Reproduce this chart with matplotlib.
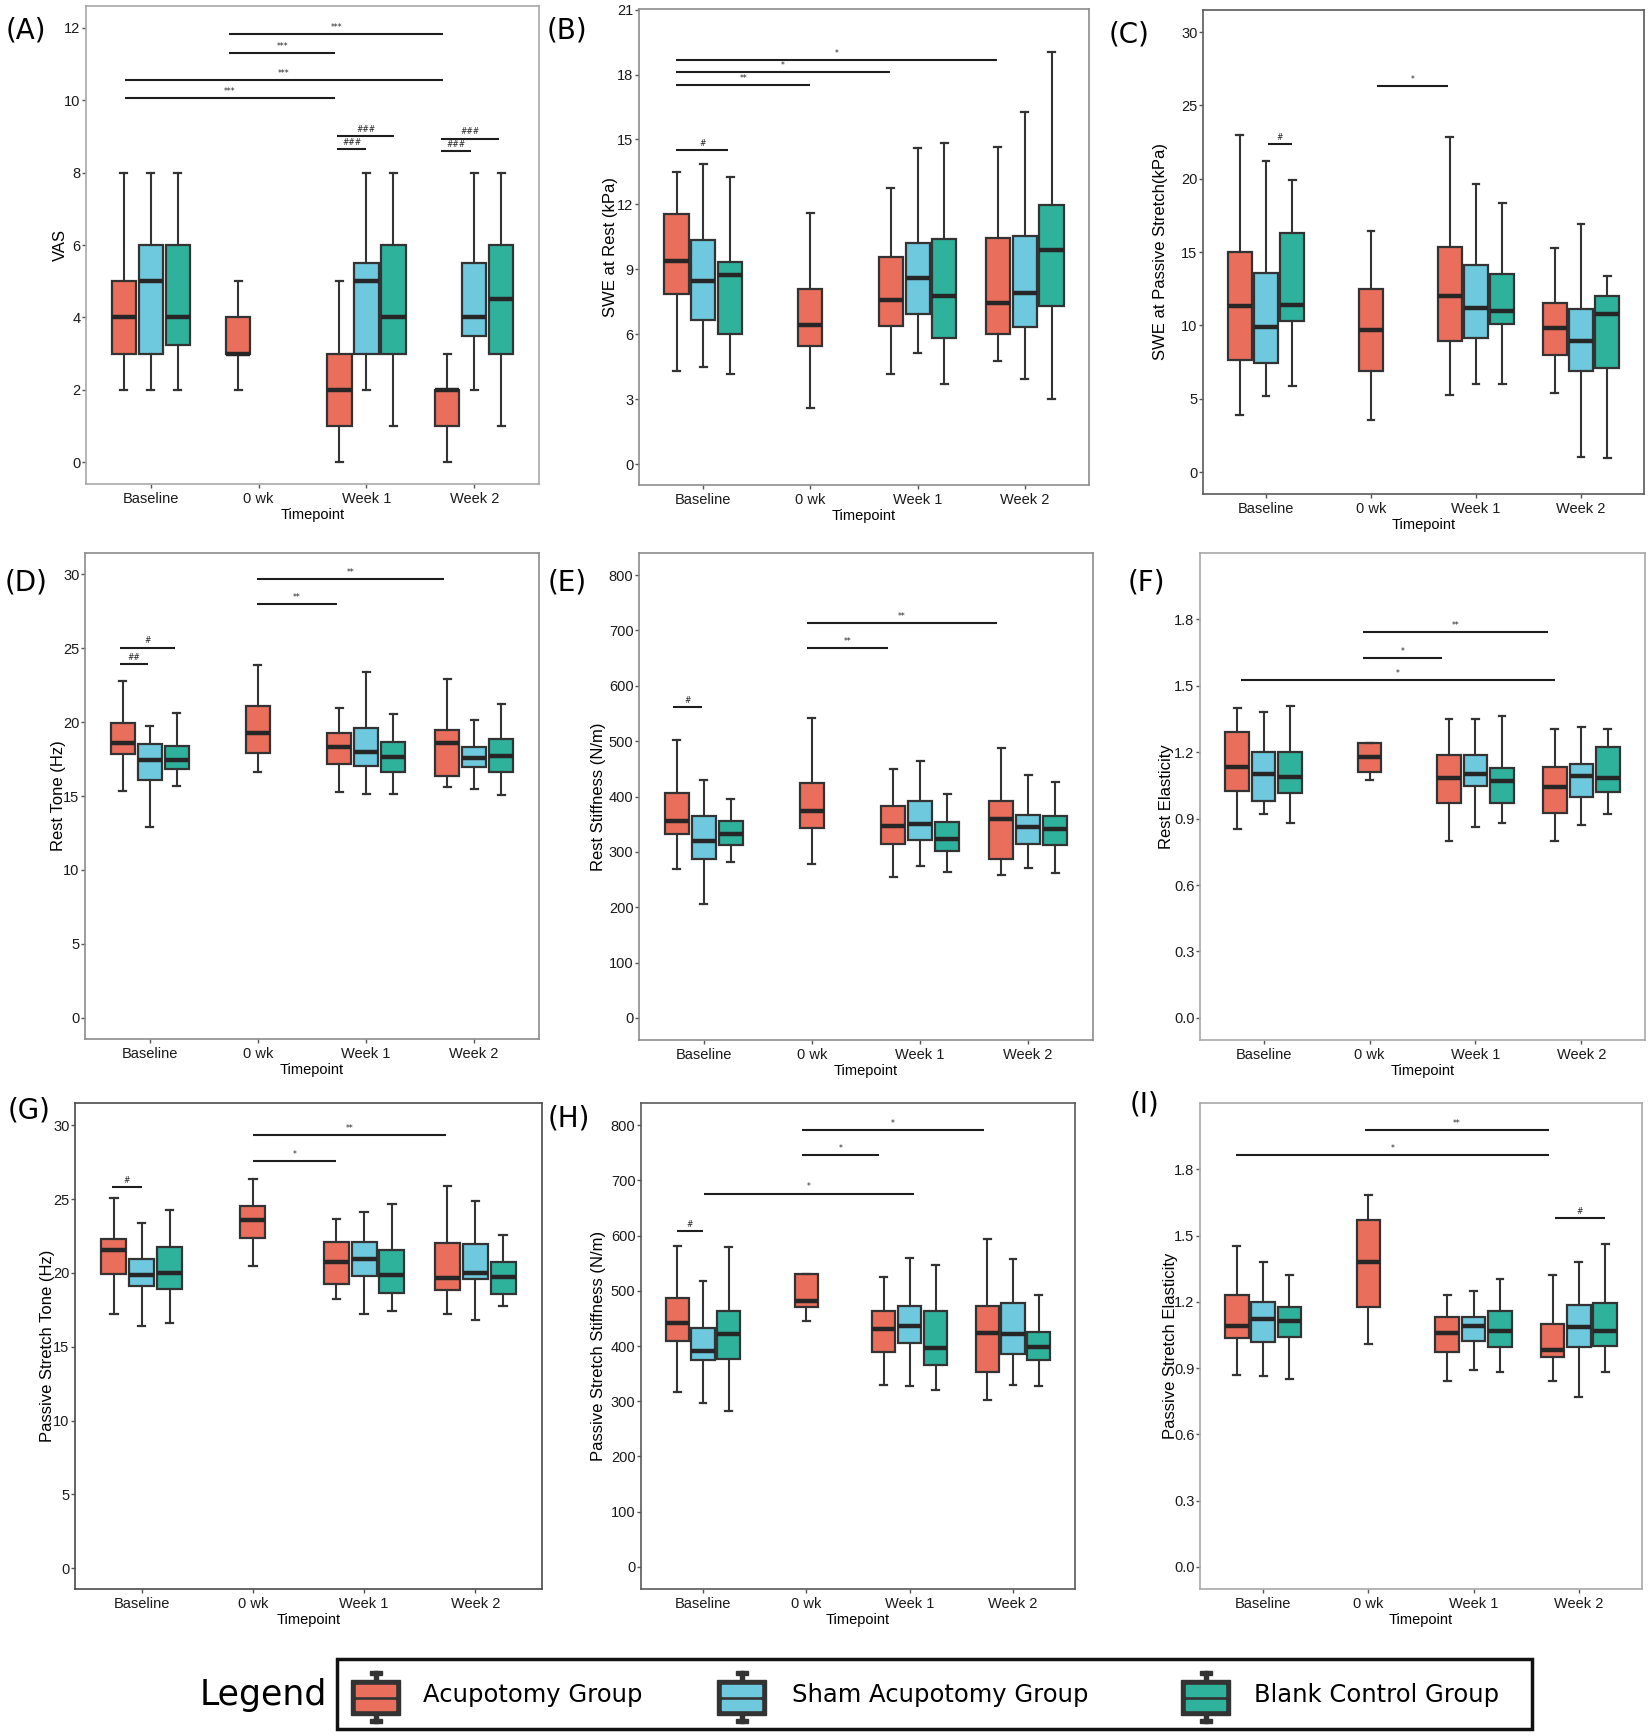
import matplotlib
matplotlib.use('Agg')
import matplotlib.pyplot as plt
from matplotlib import font_manager
from matplotlib.patches import Rectangle

W, H = 1648, 1736

timepoints = ['Baseline', '0 wk', 'Week 1', 'Week 2']
groups = ['Acupotomy Group', 'Sham Acupotomy Group', 'Blank Control Group']
colors = ['#EA6E5C', '#6EC8DE', '#2EB29C']

# box stats: (whislo, q1, median, q3, whishi)
# order: Baseline x3, 0 wk (acupotomy only), Week 1 x3, Week 2 x3
vas = [(2, 3, 4, 5, 8), (2, 3, 5, 6, 8), (2, 3.25, 4, 6, 8),
       (2, 3, 3, 4, 5),
       (0, 1, 2, 3, 5), (2, 3, 5, 5.5, 8), (1, 3, 4, 6, 8),
       (0, 1, 2, 2, 3), (2, 3.5, 4, 5.5, 8), (1, 3, 4.5, 6, 8)]
swe_rest = [(4.3, 7.86, 9.37, 11.57, 13.5), (4.5, 6.67, 8.48, 10.35, 13.87), (4.16, 6.02, 8.75, 9.35, 13.27),
            (2.6, 5.46, 6.43, 8.08, 11.6),
            (4.16, 6.4, 7.57, 9.56, 12.78), (5.13, 6.94, 8.62, 10.22, 14.6), (3.68, 5.81, 7.78, 10.41, 14.83),
            (4.76, 6.03, 7.44, 10.43, 14.63), (3.92, 6.33, 7.9, 10.52, 16.29), (3.02, 7.3, 9.87, 11.98, 19.03)]
swe_stretch = [(3.86, 7.67, 11.31, 15.0, 22.99), (5.17, 7.45, 9.9, 13.54, 21.19), (5.85, 10.29, 11.38, 16.31, 19.88),
               (3.54, 6.92, 9.71, 12.5, 16.43),
               (5.27, 8.93, 12.01, 15.36, 22.84), (5.97, 9.13, 11.19, 14.08, 19.64), (5.97, 10.12, 10.95, 13.52, 18.33),
               (5.41, 8.01, 9.83, 11.53, 15.24), (1.04, 6.92, 8.91, 11.14, 16.89), (0.95, 7.06, 10.8, 11.97, 13.37)]
rest_tone = [(15.35, 17.84, 18.58, 19.91, 22.81), (12.88, 16.09, 17.47, 18.49, 19.74), (15.67, 16.81, 17.47, 18.37, 20.65),
             (16.65, 17.93, 19.28, 21.07, 23.84),
             (15.26, 17.16, 18.3, 19.26, 20.98), (15.16, 17.0, 17.98, 19.63, 23.37), (15.16, 16.65, 17.63, 18.63, 20.53),
             (15.58, 16.37, 18.58, 19.47, 22.93), (15.47, 16.95, 17.58, 18.35, 20.14), (15.07, 16.65, 17.7, 18.84, 21.26)]
rest_stiff = [(269, 333, 355, 407, 502), (206, 287, 319, 365, 429), (281, 312, 333, 355, 396),
              (278, 343, 374, 424, 542),
              (255, 314, 347, 382, 450), (274, 322, 350, 392, 464), (263, 301, 324, 354, 404),
              (258, 287, 360, 392, 487), (270, 315, 344, 367, 439), (262, 312, 341, 364, 426)]
rest_elast = [(0.851, 1.026, 1.132, 1.292, 1.402), (0.921, 0.981, 1.101, 1.202, 1.383), (0.88, 1.017, 1.09, 1.202, 1.411),
              (1.073, 1.109, 1.18, 1.241, 1.241),
              (0.801, 0.969, 1.084, 1.186, 1.352), (0.863, 1.047, 1.102, 1.186, 1.352), (0.88, 0.969, 1.068, 1.129, 1.362),
              (0.801, 0.924, 1.042, 1.132, 1.303), (0.871, 0.997, 1.093, 1.146, 1.312), (0.921, 1.022, 1.085, 1.222, 1.303)]
ps_tone = [(17.22, 19.93, 21.55, 22.27, 25.07), (16.43, 19.13, 19.83, 20.94, 23.36), (16.64, 18.94, 19.98, 21.74, 24.23),
           (20.46, 22.39, 23.55, 24.54, 26.35),
           (18.21, 19.28, 20.75, 22.08, 23.65), (17.22, 19.76, 20.97, 22.08, 24.15), (17.44, 18.65, 19.88, 21.52, 24.64),
           (17.22, 18.82, 19.64, 22.05, 25.87), (16.84, 19.57, 20.02, 21.93, 24.86), (17.75, 18.55, 19.71, 20.72, 22.54)]
ps_stiff = [(316, 409, 442, 487, 581), (296, 374, 391, 432, 517), (282, 376, 421, 463, 580),
            (446, 471, 481, 530, 530),
            (330, 390, 431, 463, 525), (328, 405, 437, 473, 559), (320, 366, 397, 463, 546),
            (302, 353, 423, 472, 593), (329, 385, 422, 478, 558), (327, 375, 399, 426, 493)]
ps_elast = [(0.87, 1.037, 1.09, 1.23, 1.451), (0.862, 1.016, 1.121, 1.2, 1.38), (0.85, 1.039, 1.111, 1.176, 1.322),
            (1.01, 1.176, 1.382, 1.57, 1.683),
            (0.841, 0.973, 1.061, 1.13, 1.232), (0.89, 1.024, 1.09, 1.13, 1.251), (0.881, 0.994, 1.066, 1.158, 1.303),
            (0.841, 0.95, 0.981, 1.1, 1.322), (0.771, 0.995, 1.084, 1.185, 1.38), (0.881, 1.002, 1.068, 1.195, 1.461)]

# significance brackets: (x start, x end, y, label), x in category units
br_vas = [(1.73, 3.71, 11.82, '***'), (1.73, 2.71, 11.31, '***'), (0.76, 3.71, 10.55, '***'),
          (0.76, 2.71, 10.05, '***'), (2.73, 3.26, 9.02, '###'), (2.73, 3.0, 8.65, '###'),
          (3.69, 4.23, 8.94, '###'), (3.69, 3.97, 8.6, '###')]
br_swe_rest = [(0.745, 3.744, 18.67, '*'), (0.745, 2.74, 18.13, '*'), (0.745, 2.0, 17.52, '**'),
               (0.745, 1.235, 14.52, '#')]
br_swe_stretch = [(2.06, 2.73, 26.33, '*'), (1.02, 1.244, 22.38, '#')]
br_rest_tone = [(1.99, 3.72, 29.7, '**'), (1.99, 2.73, 28.0, '**'), (0.72, 1.23, 25.05, '#'),
                (0.72, 0.98, 23.93, '##')]
br_rest_stiff = [(1.95, 3.71, 713, '**'), (1.95, 2.705, 668, '**'), (0.71, 0.98, 562, '#')]
br_rest_elast = [(1.94, 3.68, 1.741, '**'), (1.94, 2.68, 1.627, '*'), (0.79, 3.75, 1.528, '*')]
br_ps_tone = [(2.0, 3.74, 29.35, '**'), (2.0, 2.75, 27.6, '*'), (0.73, 1.0, 25.8, '#')]
br_ps_stiff = [(1.955, 3.716, 791, '*'), (1.955, 2.7, 745, '*'), (1.01, 3.04, 676, '*'),
               (0.744, 1.0, 608.7, '#')]
br_ps_elast = [(1.965, 3.718, 1.979, '**'), (0.745, 3.718, 1.865, '*'), (3.778, 4.245, 1.578, '#')]

ylabels = ['VAS', 'SWE at Rest (kPa)', 'SWE at Passive Stretch(kPa)',
           'Rest Tone (Hz)', 'Rest Stiffness (N/m)', 'Rest Elasticity',
           'Passive Stretch Tone (Hz)', 'Passive Stretch Stiffness (N/m)', 'Passive Stretch Elasticity']
letters = ['(A)', '(B)', '(C)', '(D)', '(E)', '(F)', '(G)', '(H)', '(I)']
all_stats = [vas, swe_rest, swe_stretch, rest_tone, rest_stiff, rest_elast, ps_tone, ps_stiff, ps_elast]
all_br = [br_vas, br_swe_rest, br_swe_stretch, br_rest_tone, br_rest_stiff, br_rest_elast,
          br_ps_tone, br_ps_stiff, br_ps_elast]
yticks = [range(0, 13, 2), range(0, 22, 3), range(0, 31, 5), range(0, 31, 5), range(0, 801, 100),
          [0, 0.3, 0.6, 0.9, 1.2, 1.5, 1.8], range(0, 31, 5), range(0, 801, 100),
          [0, 0.3, 0.6, 0.9, 1.2, 1.5, 1.8]]

# ---- layout (pixels) ----
rects = [(86, 539, 6, 484), (639, 1089, 9, 485), (1203, 1644, 10, 494),
         (85, 539, 553, 1039), (639, 1093, 553, 1040), (1200, 1645, 553, 1040),
         (75, 542, 1103, 1589), (641, 1075, 1103, 1589), (1200, 1642, 1103, 1589)]
ylims = [(-0.6, 12.6), (-0.97, 21.03), (-1.5, 31.5), (-1.45, 31.45), (-40, 840), (-0.1, 2.1),
         (-1.4, 31.5), (-40, 840), (-0.1, 2.1)]
ylabel_x = [60, 610, 1161, 58, 598, 1166, 48, 598, 1170]
letter_xy = [(26, 31), (567, 31), (1129, 34), (26, 582), (567, 583), (1146, 582),
             (29, 1110), (569, 1119), (1145, 1105)]
zero_off = [-0.19, 0, 0, 0, 0, 0, 0, 0, 0]
spine_col = ['#a8a8a8', '#8c8c8c', '#5a5a5a', '#8c8c8c', '#8c8c8c', '#a8a8a8', '#4a4a4a', '#5a5a5a', '#a8a8a8']

names = {f.name for f in font_manager.fontManager.ttflist}
if 'Liberation Sans Narrow' in names:
    tick_font, tick_size = 'Liberation Sans Narrow', 11.5
else:
    tick_font, tick_size = 'Liberation Sans', 10.5

fig = plt.figure(figsize=(W / 100, H / 100), dpi=100)
dark = '#333333'

for i in range(9):
    L, R, T, B = rects[i]
    ax = fig.add_axes([L / W, 1 - B / H, (R - L) / W, (B - T) / H])
    pos = [0.75, 1.0, 1.25, 2 + zero_off[i], 2.75, 3.0, 3.25, 3.75, 4.0, 4.25]
    cols = colors + [colors[0]] + colors + colors
    st = [dict(whislo=a, q1=b, med=c, q3=d, whishi=e, fliers=[]) for a, b, c, d, e in all_stats[i]]
    bp = ax.bxp(st, positions=pos, widths=0.225, capwidths=0.065, patch_artist=True,
                showfliers=False, manage_ticks=False,
                boxprops=dict(edgecolor=dark, linewidth=1.6),
                medianprops=dict(color='#262626', linewidth=3.2, solid_capstyle='butt'),
                whiskerprops=dict(color=dark, linewidth=1.5),
                capprops=dict(color=dark, linewidth=1.6))
    for patch, c in zip(bp['boxes'], cols):
        patch.set_facecolor(c)

    for x1, x2, y, lab in all_br[i]:
        ax.plot([x1, x2], [y, y], color='#1e1e1e', lw=1.5, solid_capstyle='butt')
        ax.annotate(lab, ((x1 + x2) / 2, y), xytext=(0, 1.5), textcoords='offset points',
                    ha='center', va='bottom', fontsize=5.5, color='#222222')

    ax.set_xlim(0.4, 4.6)
    ax.set_ylim(*ylims[i])
    ax.set_xticks([1, 2, 3, 4])
    ax.set_xticklabels(timepoints)
    ax.set_yticks(list(yticks[i]))
    if i in (5, 8):
        ax.set_yticklabels([f'{v:.1f}' for v in yticks[i]])
    ax.tick_params(length=3, width=1, color='#555555', labelsize=tick_size,
                   labelfontfamily=tick_font, labelcolor='#1a1a1a')
    ax.tick_params(axis='x', pad=2.5)
    ax.tick_params(axis='y', pad=1)
    for sp in ax.spines.values():
        sp.set_color(spine_col[i])
        sp.set_linewidth(1.2)

    ax.set_xlabel('Timepoint', fontsize=tick_size, family=tick_font, va='center')
    ax.xaxis.set_label_coords(0.5, -31 / (B - T))
    ax.set_ylabel(ylabels[i], fontsize=12, family='Liberation Sans', va='center')
    ax.yaxis.set_label_coords((ylabel_x[i] - L) / (R - L), 0.5)

    lx, ly = letter_xy[i]
    fig.text(lx / W, 1 - ly / H, letters[i], ha='center', va='center', fontsize=20)

# ---- legend ----
lg = fig.add_axes([0, 0, 1, 1])
lg.set_xlim(0, W)
lg.set_ylim(H, 0)
lg.axis('off')
lg.add_patch(Rectangle((337, 1659), 1532 - 337, 1729 - 1659, fill=False, edgecolor='#111111', lw=2.5))
lg.text(263, 1695, 'Legend', ha='center', va='center', fontsize=25)
icon_x = [376, 742, 1206]
text_x = [423, 792, 1254]
cy = 1697
for c, name, ix, tx in zip(colors, groups, icon_x, text_x):
    lg.add_patch(Rectangle((ix - 2, cy - 26), 4, 10, color=dark))
    lg.add_patch(Rectangle((ix - 2, cy + 16), 4, 10, color=dark))
    lg.add_patch(Rectangle((ix - 6, cy - 26), 12, 4, color=dark))
    lg.add_patch(Rectangle((ix - 6, cy + 22), 12, 4, color=dark))
    lg.add_patch(Rectangle((ix - 24.5, cy - 17), 49, 35, color=dark))
    lg.add_patch(Rectangle((ix - 19.5, cy - 12), 39, 10.5, color=c))
    lg.add_patch(Rectangle((ix - 19.5, cy + 2.5), 39, 10.5, color=c))
    lg.text(tx, cy - 2, name, ha='left', va='center', fontsize=17.5)

fig.savefig('out.png', dpi=100)
